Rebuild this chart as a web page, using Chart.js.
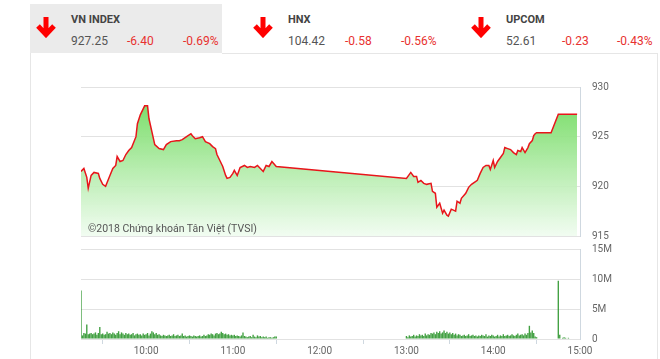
<!DOCTYPE html>
<html>
<head>
<meta charset="utf-8">
<script src="https://cdn.jsdelivr.net/npm/chart.js@4.4.0/dist/chart.umd.min.js"></script>
<style>
  body { margin:0; width:660px; height:359px; overflow:hidden; position:relative; background:#fff; font-family:Roboto, "Open Sans", sans-serif; }
  .box { position:absolute; left:30px; top:4px; width:192px; height:49px; background:#ebebeb; }
  .ttl { position:absolute; top:13px; font-size:11px; font-weight:bold; color:#444; }
  .val { position:absolute; top:34px; font-size:12px; color:#555; }
  .neg { color:#e8312f; }
  .arr { position:absolute; top:16px; width:22px; height:22px; }
  .frame { position:absolute; background:#e6e6e6; }
  .wm { position:absolute; left:88px; top:222px; font-size:10.5px; color:#555; }
  canvas { position:absolute; }
</style>
</head>
<body>
<div class="box"></div>
<div class="frame" style="left:30px;top:53px;width:1px;height:306px"></div>
<div class="frame" style="left:222px;top:53px;width:436px;height:1px"></div>
<div class="frame" style="left:657px;top:53px;width:1px;height:306px"></div>

<svg class="arr" style="left:35px" viewBox="0 0 22 22"><path d="M11 1 V18 M3 10 L11 18.5 L19 10" stroke="#f00" stroke-width="5" fill="none"/></svg>
<svg class="arr" style="left:252px" viewBox="0 0 22 22"><path d="M11 1 V18 M3 10 L11 18.5 L19 10" stroke="#f00" stroke-width="5" fill="none"/></svg>
<svg class="arr" style="left:470px" viewBox="0 0 22 22"><path d="M11 1 V18 M3 10 L11 18.5 L19 10" stroke="#f00" stroke-width="5" fill="none"/></svg>

<div class="ttl" style="left:71px">VN INDEX</div>
<div class="val" style="left:71px">927.25</div>
<div class="val neg" style="left:127px">-6.40</div>
<div class="val neg" style="left:183px">-0.69%</div>

<div class="ttl" style="left:288px">HNX</div>
<div class="val" style="left:288px">104.42</div>
<div class="val neg" style="left:345px">-0.58</div>
<div class="val neg" style="left:401px">-0.56%</div>

<div class="ttl" style="left:506px">UPCOM</div>
<div class="val" style="left:506px">52.61</div>
<div class="val neg" style="left:562px">-0.23</div>
<div class="val neg" style="left:617px">-0.43%</div>

<canvas id="price" width="579" height="165" style="left:81px;top:80px"></canvas>
<canvas id="vol" width="579" height="117" style="left:81px;top:243px"></canvas>
<div class="wm">©2018 Chứng khoán Tân Việt (TVSI)</div>

<script>
// time = minutes after 9:00
const priceTimes = [15,17,19,20,22,24,27,28,30,32,35,37,39,40,42,44,46,48,50,53,54,56,58,59,61,62,64,66,69,72,74,77,81,83,85,88,91,92,94,97,99,101,104,106,108,109,111,113,115,116,118,120,121,123,125,128,130,132,135,137,139,141,143,145,147,150,
  240,243,245,247,248,250,252,254,257,258,260,261,263,265,266,268,269,271,274,275,277,278,281,283,285,288,289,291,293,295,297,298,300,301,303,305,307,308,310,312,314,316,317,319,320,322,324,325,327,328,329,330,340,345,358];
const priceValues = [921.5,921.8,920.9,919.8,921.1,921.4,921.3,920.8,920.2,920.0,921.1,921.8,922.1,923.0,922.5,922.6,923.2,923.6,923.9,925.0,926.3,927.2,927.8,928.1,928.1,926.8,925.5,924.2,923.8,923.7,924.2,924.5,924.6,924.6,924.7,925.0,925.3,925.1,924.8,924.9,925.0,924.5,924.3,924.0,923.8,923.2,922.6,922.0,921.1,920.8,920.9,921.3,921.6,921.1,921.9,922.1,921.9,922.0,921.9,922.1,921.8,921.5,922.1,922.0,922.5,922.0,
  920.8,921.4,921.0,921.0,920.4,920.6,920.3,920.2,920.3,919.5,919.3,917.9,918.3,917.3,917.6,917.1,917.0,917.7,917.5,918.5,918.3,918.8,919.3,919.9,920.2,920.5,920.6,921.3,921.9,922.1,922.1,921.7,922.6,921.9,922.5,922.9,923.3,923.9,923.8,923.7,923.4,923.2,923.6,923.5,923.9,923.4,923.9,924.3,924.6,925.1,925.3,925.4,925.4,927.25,927.25];

// volume in millions, one bar per minute
const morningStart = 15; // 9:15
const volMorning = [8.1,0.6,1.0,0.9,2.4,0.8,0.9,1.0,0.8,0.9,1.1,0.7,1.0,2.0,0.8,0.9,0.7,0.8,1.2,0.9,
  1.0,0.8,1.1,0.9,0.7,1.0,1.3,0.8,1.1,0.9,0.7,1.0,0.8,0.9,0.7,0.8,1.0,0.6,0.8,0.9,
  0.7,0.8,0.6,0.9,0.7,0.8,1.0,0.6,0.9,1.3,1.1,0.8,1.0,0.7,0.8,0.6,0.5,0.7,0.6,0.5,
  0.6,0.7,0.5,0.6,0.8,0.5,0.6,0.7,0.5,0.6,0.9,0.5,0.6,0.4,0.5,0.6,0.5,0.4,0.6,0.5,
  0.4,0.5,0.6,0.4,0.5,0.7,0.5,0.6,0.8,0.7,0.9,0.8,0.6,0.9,1.0,0.8,0.9,1.2,1.0,0.8,
  0.9,0.7,0.8,0.6,0.7,0.6,0.7,0.5,0.6,0.5,0.4,0.6,1.1,0.5,0.4,0.3,0.4,0.5,0.3,0.7,
  0.4,0.3,0.6,0.4,0.5,0.3,0.4,0.3,0.4,0.2,0.3,0.3,0.2,0.3,0.4,0.4];
const afternoonStart = 240; // 13:00
const volAfternoon = [0.5,0.3,0.6,0.4,0.5,0.7,0.4,0.6,0.5,0.8,
  0.6,0.7,0.5,0.9,0.6,0.8,0.7,1.0,0.9,1.1,
  0.8,1.2,1.0,1.3,0.9,1.1,1.4,1.0,1.2,0.9,
  1.1,0.8,1.0,0.7,0.9,0.6,0.8,0.7,0.5,0.6,
  0.7,0.5,0.6,0.8,0.5,0.6,0.7,0.5,0.6,0.4,
  0.6,0.5,0.7,0.6,0.5,0.8,0.4,0.6,0.5,0.7,
  0.6,0.4,0.5,0.7,0.4,0.6,0.5,0.8,0.5,0.6,
  0.7,0.5,0.6,0.8,0.6,0.5,0.7,0.9,0.6,0.7,
  0.8,0.6,0.9,0.7,1.0,2.2,1.1,1.4,1.0,0.4,0.3];
const closeTimes = [345,346,348,349,350,352];
const volClose = [9.7,0.7,0.2,0.3,0.2,0.2];

const xTicks = [60,120,180,240,300,360];
const priceTicks = [915,920,925,930];
const volTicks = [0,5,10,15];

const fmtTime = m => (9 + Math.floor(m / 60)) + ':' + String(m % 60).padStart(2, '0');
const tickFont = { family: 'Roboto', size: 10 };
const gridColor = '#e2e2e2';
const borderColor = '#cfd8e0';

const priceData = priceTimes.map((t, i) => ({ x: t, y: priceValues[i] }));
const volData = [];
volMorning.forEach((v, i) => volData.push({ x: morningStart + i, y: v }));
volAfternoon.forEach((v, i) => volData.push({ x: afternoonStart + i, y: v }));
volClose.forEach((v, i) => volData.push({ x: closeTimes[i], y: v }));

// fixed axis box so both charts share the same plot area
const fitRight = s => { s.width = 80; s.paddingTop = 0; s.paddingBottom = 0; };

new Chart(document.getElementById('price'), {
  type: 'line',
  data: {
    datasets: [{
      data: priceData,
      borderColor: '#e8151b',
      borderWidth: 1.5,
      pointRadius: 0,
      tension: 0,
      fill: 'start',
      backgroundColor: (ctx) => {
        const a = ctx.chart.chartArea;
        if (!a) return 'rgba(140,225,120,0.5)';
        const g = ctx.chart.ctx.createLinearGradient(0, a.top, 0, a.bottom);
        g.addColorStop(0, 'rgba(100,215,80,0.95)');
        g.addColorStop(1, 'rgba(240,252,240,0.9)');
        return g;
      }
    }]
  },
  options: {
    responsive: false,
    animation: false,
    layout: { padding: { top: 7, bottom: 9, left: 0, right: 0 } },
    plugins: { legend: { display: false }, tooltip: { enabled: false } },
    scales: {
      x: { type: 'linear', min: 15, max: 360, display: false },
      y: {
        position: 'right', min: 915, max: 930,
        afterBuildTicks: s => { s.ticks = priceTicks.map(v => ({ value: v })); },
        afterFit: fitRight,
        grid: { color: gridColor, drawTicks: false },
        border: { display: true, color: borderColor },
        ticks: { padding: 12, color: '#666', font: tickFont }
      }
    }
  }
});

new Chart(document.getElementById('vol'), {
  type: 'bar',
  data: {
    datasets: [{
      data: volData,
      backgroundColor: 'rgba(45,150,45,0.9)',
      borderWidth: 0,
      barPercentage: 0.95,
      categoryPercentage: 1
    }]
  },
  options: {
    responsive: false,
    animation: false,
    layout: { padding: { top: 6, bottom: 0, left: 0, right: 0 } },
    plugins: { legend: { display: false }, tooltip: { enabled: false } },
    scales: {
      x: {
        type: 'linear', min: 15, max: 360, offset: false,
        afterBuildTicks: s => { s.ticks = xTicks.map(v => ({ value: v })); },
        afterFit: s => { s.height = 21; },
        grid: { drawOnChartArea: false, drawTicks: true, tickLength: 5, color: borderColor },
        border: { display: true, color: gridColor },
        ticks: { color: '#666', font: tickFont, padding: 1, maxRotation: 0, callback: v => fmtTime(v) }
      },
      y: {
        position: 'right', min: 0, max: 15,
        afterBuildTicks: s => { s.ticks = volTicks.map(v => ({ value: v })); },
        afterFit: fitRight,
        grid: { color: gridColor, drawTicks: false },
        border: { display: true, color: borderColor },
        ticks: { padding: 12, color: '#666', font: tickFont, callback: v => v === 0 ? '0' : v + 'M' }
      }
    }
  }
});
</script>
</body>
</html>
